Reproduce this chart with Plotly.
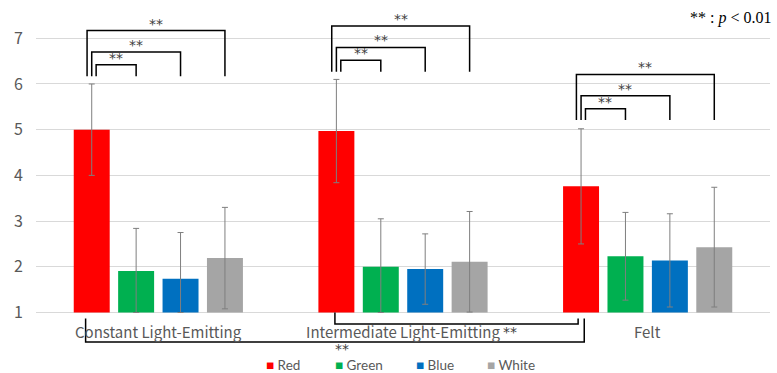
import plotly.graph_objects as go

# Stimulus conditions (x categories) and colour series
conditions = ["Constant Light-Emitting", "Intermediate Light-Emitting", "Felt"]
series = ["Red", "Green", "Blue", "White"]
series_colors = ["#FF0000", "#00B050", "#0070C0", "#A5A5A5"]

# Mean ratings and standard deviations per series, one value per condition
means = {
    "Red":   [5.00, 4.97, 3.76],
    "Green": [1.91, 2.00, 2.23],
    "Blue":  [1.74, 1.95, 2.14],
    "White": [2.19, 2.11, 2.43],
}
sds = {
    "Red":   [1.00, 1.13, 1.26],
    "Green": [0.93, 1.05, 0.96],
    "Blue":  [1.01, 0.77, 1.02],
    "White": [1.11, 1.10, 1.31],
}

# Axis settings
y_ticks = [1, 2, 3, 4, 5, 6, 7]
y_floor = 1

# Significance brackets: baseline height of the Red-vs-others brackets per condition
bracket_base = [6.17, 6.27, 5.21]
bracket_rise = {"Green": 0.25, "Blue": 0.53, "White": 1.00}
sig_label = "**"

FONT = "Noto Sans CJK JP"
SIG_FONT = dict(family="DejaVu Sans", size=14, color="#404040")
TXT = "#595959"

BARGAP = 0.274
SLOT = (1 - BARGAP) / len(series)


def bar_x(cond_idx, ser_idx):
    return cond_idx + (ser_idx - (len(series) - 1) / 2) * SLOT


fig = go.Figure()
for s, col in zip(series, series_colors):
    m = means[s]
    sd = sds[s]
    fig.add_trace(go.Bar(
        name=s, x=conditions, y=[v - y_floor for v in m], base=y_floor,
        marker=dict(color=col, line=dict(width=0)),
        error_y=dict(type="data", symmetric=False, array=sd,
                     arrayminus=[min(d, v - y_floor) for d, v in zip(sd, m)],
                     color="#7F7F7F", thickness=1, width=3),
        hoverinfo="skip", showlegend=False,
    ))

shapes = []
annotations = []
line_style = dict(color="#000000", width=1.5)
left_shift = {"Green": 0.018, "Blue": 0.0, "White": -0.019}

# Red vs Green / Blue / White brackets above each condition
for ci, base in enumerate(bracket_base):
    x_red = bar_x(ci, 0)
    for si, s in enumerate(series[1:], start=1):
        top = base + bracket_rise[s]
        xl = x_red + left_shift[s]
        xr = bar_x(ci, si)
        shapes.append(dict(type="path", xref="x", yref="y",
                           path=f"M {xl},{base} L {xl},{top} L {xr},{top} L {xr},{base}",
                           line=line_style))
        annotations.append(dict(x=(xl + xr) / 2, y=top, xref="x", yref="y",
                                text=sig_label, showarrow=False, yanchor="bottom",
                                yshift=-3, font=SIG_FONT))

# Between-condition brackets for the Red series, drawn below the axis
low_brackets = [
    # (from condition, to condition, left drop top, right drop top, bar level, label x, label y)
    (0, 2, 0.87, 0.87, 0.355, 0.751, 0.212),
    (1, 2, 1.00, 0.87, 0.75, 1.437, 0.575),
]
for c0, c1, y0, y1, yl, lx, ly in low_brackets:
    xa = bar_x(c0, 0) + (-0.025 if c0 == 0 else -0.006)
    xb = bar_x(c1, 0) + (0.013 if c0 == 0 else -0.012)
    shapes.append(dict(type="path", xref="x", yref="y",
                       path=f"M {xa},{y0} L {xa},{yl} L {xb},{yl} L {xb},{y1}",
                       line=line_style))
    annotations.append(dict(x=lx, y=ly, xref="x", yref="y", text=sig_label,
                            showarrow=False, borderpad=0, font=SIG_FONT))

# Condition labels under the bars
for ci, c in enumerate(conditions):
    annotations.append(dict(x=ci, y=0.59, xref="x", yref="y", text=c, showarrow=False,
                            borderpad=0, font=dict(family=FONT, size=15, color=TXT)))

# Colour key along the bottom edge
key_x = [0.3125, 0.4055, 0.516, 0.6125]
for s, col, kx in zip(series, series_colors, key_x):
    annotations.append(dict(x=kx, y=0.0223, xref="paper", yref="paper", xanchor="left",
                            yanchor="middle", showarrow=False, borderpad=0,
                            text=f"<span style='color:{col}'>■</span> {s}",
                            font=dict(family="Lato", size=13.5, color=TXT)))

annotations.append(dict(x=1, y=1, xref="paper", yref="paper", xanchor="right", yanchor="middle",
                        xshift=3, yshift=-8,
                        text="** : <i>p</i> < 0.01", showarrow=False,
                        font=dict(family="Liberation Serif", size=16, color="#000000")))

fig.update_layout(
    width=777, height=373,
    margin=dict(l=36, r=7, t=10, b=0),
    paper_bgcolor="white", plot_bgcolor="white",
    barmode="group", bargap=BARGAP, bargroupgap=0.19,
    font=dict(family=FONT, size=15, color=TXT),
    showlegend=False,
    shapes=shapes, annotations=annotations,
)
fig.update_xaxes(showticklabels=False, showgrid=False, zeroline=False, showline=False,
                 range=[-0.5, 2.5])
fig.update_yaxes(range=[-0.324, 7.619], tickvals=y_ticks, showgrid=True, gridcolor="#D9D9D9",
                 gridwidth=1, zeroline=False, showline=False, ticks="",
                 tickfont=dict(family=FONT, size=16, color=TXT), ticklabelstandoff=12)

fig.write_html("out.html")
